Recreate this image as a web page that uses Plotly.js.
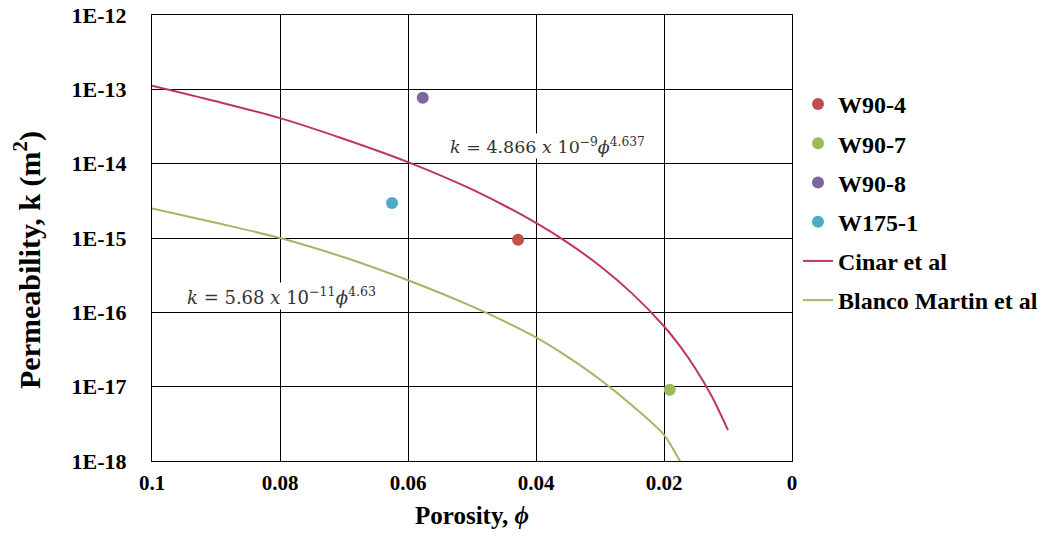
<!DOCTYPE html>
<html>
<head>
<meta charset="utf-8">
<script src="https://cdn.plot.ly/plotly-3.0.1.min.js"></script>
<style>html,body{margin:0;padding:0;background:#fff}#chart{width:1050px;height:548px}</style>
</head>
<body>
<div id="chart"></div>
<script>
// Sample measurements (porosity, permeability m^2)
const sampleNames = ["W90-4", "W90-7", "W90-8", "W175-1"];
const samplePorosity = [0.0428, 0.0191, 0.0577, 0.0625];
const samplePerm = [9.5e-16, 9.1e-18, 7.7e-14, 2.95e-15];
const sampleColors = ["#C0504D", "#9BBB59", "#8064A2", "#4BACC6"];

// Cinar et al curve
const cinarPorosity = [0.1, 0.09, 0.08, 0.07, 0.06, 0.05, 0.04, 0.035, 0.03, 0.025, 0.02, 0.0175, 0.015, 0.0125, 0.01];
const cinarPerm = [1.12e-13, 6.9e-14, 4.1e-14, 2.15e-14, 1.05e-14, 4.5e-15, 1.6e-15, 8.6e-16, 4.2e-16, 1.8e-16, 6.5e-17, 3.5e-17, 1.7e-17, 7.3e-18, 2.6e-18];

// Blanco Martin et al curve
const blancoPorosity = [0.1, 0.09, 0.08, 0.07, 0.06, 0.05, 0.04, 0.035, 0.03, 0.025, 0.02, 0.0175, 0.017];
const blancoPerm = [2.5e-15, 1.6e-15, 1.0e-15, 5.5e-16, 2.7e-16, 1.2e-16, 4.6e-17, 2.5e-17, 1.25e-17, 5.6e-18, 2.25e-18, 1.0e-18, 0.85e-18];

const yTickVals = [1e-18, 1e-17, 1e-16, 1e-15, 1e-14, 1e-13, 1e-12];
const yTickText = ["1E-18", "1E-17", "1E-16", "1E-15", "1E-14", "1E-13", "1E-12"];
const xTickVals = [0.1, 0.08, 0.06, 0.04, 0.02, 0];
const xTickText = ["0.1", "0.08", "0.06", "0.04", "0.02", "0"];

const serif = "Liberation Serif, Times New Roman, serif";

const traces = [];
sampleNames.forEach((n, i) => {
  traces.push({
    x: [samplePorosity[i]], y: [samplePerm[i]], name: n, type: "scatter", mode: "markers",
    marker: {color: sampleColors[i], size: 12},
    legendgroup: "g" + i
  });
});
traces.push({x: cinarPorosity, y: cinarPerm, name: "Cinar et al", type: "scatter", mode: "lines",
  line: {color: "#BE3562", width: 2, shape: "spline", smoothing: 0.8}, legendgroup: "g4"});
traces.push({x: blancoPorosity, y: blancoPerm, name: "Blanco Martin et al", type: "scatter", mode: "lines",
  line: {color: "#A6B564", width: 2, shape: "spline", smoothing: 0.8}, legendgroup: "g5"});

const layout = {
  width: 1050, height: 548,
  margin: {l: 152, r: 258, t: 15, b: 87, autoexpand: false},
  paper_bgcolor: "#fff", plot_bgcolor: "#fff",
  showlegend: true,
  legend: {
    x: (798 - 152) / 640, xanchor: "left", y: (461 - 82) / 446, yanchor: "top",
    traceorder: "grouped", tracegroupgap: 5,
    font: {family: serif, size: 24, weight: "bold", color: "#000"},
    itemwidth: 30
  },
  xaxis: {
    type: "linear", range: [0.1, 0], autorange: false,
    tickvals: xTickVals, ticktext: xTickText,
    showgrid: true, gridcolor: "#000", gridwidth: 1,
    zeroline: false, showline: true, linecolor: "#000", linewidth: 1, mirror: true,
    ticks: "", ticklen: 0, ticklabelstandoff: 3,
    tickfont: {family: serif, size: 21, weight: "bold", color: "#000"},
    title: {text: "Porosity, <i>ϕ</i>", font: {family: serif, size: 25, weight: "bold", color: "#000"}, standoff: 12}
  },
  yaxis: {
    type: "log", range: [-18, -12], autorange: false,
    tickvals: yTickVals, ticktext: yTickText,
    showgrid: true, gridcolor: "#000", gridwidth: 1,
    zeroline: false, showline: true, linecolor: "#000", linewidth: 1, mirror: true,
    ticks: "", ticklen: 0, ticklabelstandoff: 20,
    tickfont: {family: serif, size: 22, weight: "bold", color: "#000"}
  },
  annotations: [
    {xref: "paper", yref: "paper", x: (27 - 152) / 640, y: (461 - 260) / 446, xanchor: "center", yanchor: "middle",
     textangle: -90, text: "Permeability, k (m<sup>2</sup>)", showarrow: false,
     font: {family: serif, size: 30, weight: "bold", color: "#000"}},
    {xref: "paper", yref: "paper", x: (547 - 152) / 640, y: (461 - 146) / 446, xanchor: "center", yanchor: "middle",
     text: "<i>k</i> = 4.866 <i>x</i> 10<sup>−9</sup><i>ϕ</i><sup>4.637</sup>", showarrow: false,
     bgcolor: "#fff", font: {family: "DejaVu Serif, Liberation Serif, serif", size: 17.5, color: "#333"}},
    {xref: "paper", yref: "paper", x: (281 - 152) / 640, y: (461 - 296) / 446, xanchor: "center", yanchor: "middle",
     text: "<i>k</i> = 5.68 <i>x</i> 10<sup>−11</sup><i>ϕ</i><sup>4.63</sup>", showarrow: false,
     bgcolor: "#fff", font: {family: "DejaVu Serif, Liberation Serif, serif", size: 18, color: "#333"}}
  ]
};

Plotly.newPlot("chart", traces, layout, {displayModeBar: false, staticPlot: true});
</script>
</body>
</html>
